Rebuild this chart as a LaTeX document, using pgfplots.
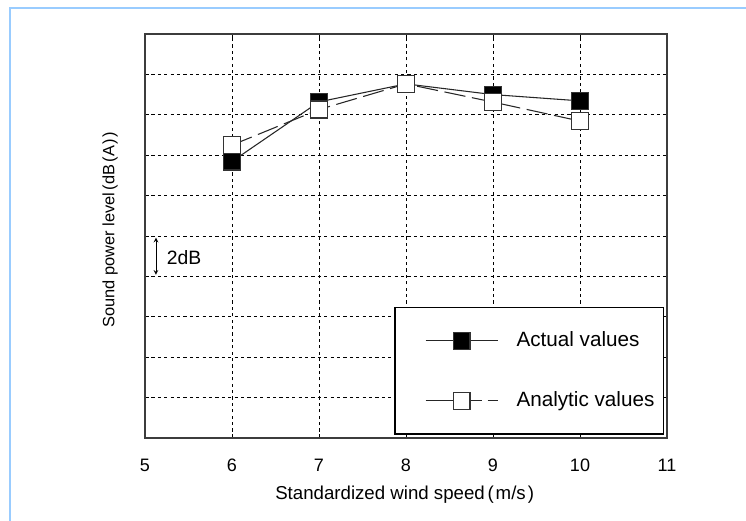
\documentclass[border=0pt]{standalone}
\usepackage{fontspec}
\setmainfont{Liberation Sans}
\usepackage{pgfplots}
\pgfplotsset{compat=1.18}
\definecolor{framebl}{RGB}{153,204,255}
\definecolor{axgray}{RGB}{60,60,60}
\begin{document}
\begin{tikzpicture}
\path[use as bounding box] (0pt,0pt) rectangle (559.5pt,390.75pt);
\draw[framebl, line width=1.5pt] (7.5pt,0pt) -- (7.5pt,384.75pt) -- (559.5pt,384.75pt);
\begin{axis}[
  at={(108.75pt,62.25pt)}, anchor=south west,
  scale only axis, width=391.5pt, height=303pt,
  xmin=5, xmax=11, ymin=0, ymax=20,
  xtick={5,...,11}, ytick={0,2,...,20}, yticklabels={},
  grid=major,
  major grid style={black, line width=0.65pt, dash pattern=on 2.4pt off 2.4pt},
  tick align=inside, major tick length=3pt, tick style={black, line width=0.7pt},
  axis line style={axgray, line width=1.1pt},
  /pgf/number format/assume math mode=true,
  xticklabel style={font=\fontsize{13.5}{16}\selectfont, anchor=base, yshift=-24.8pt},
  xlabel={Standardized wind speed\kern2pt(\kern1.5pt m/s\kern1.5pt)\kern2pt},
  xlabel style={font=\fontsize{14}{17}\selectfont, at={(axis description cs:0.5,-0.141)}, anchor=center},
  ylabel={Sound power level\kern1.2pt(\kern0.8pt dB\kern1.2pt(\kern0.8pt A\kern0.8pt)\kern1.2pt)},
  ylabel style={font=\fontsize{12.3}{14}\selectfont, at={(axis description cs:-0.067,0.516)}, anchor=center},
  legend style={at={(rel axis cs:0.995,0.008)}, anchor=south east, draw=black, line width=1pt, fill=white,
    inner xsep=7pt, inner ysep=18pt, row sep=31pt, column sep=13.75pt,
    font=\fontsize{15.5}{18}\selectfont,
    nodes={inner sep=0pt, text height=11pt, text depth=3pt}},
  legend cell align=left,
  legend image code/.code={\path[draw=none, fill=none] (0pt,-6pt) rectangle (70pt,6pt);
    \draw[mark repeat=2, mark phase=2, #1] plot coordinates {(16pt,0pt) (43pt,0pt) (70pt,0pt)};},
]
\addplot[black!85, line width=0.8pt, mark=square*, mark size=6.3pt,
  mark options={solid, fill=black, draw=black!80, line width=1pt}]
  coordinates {(6,13.69) (7,16.64) (8,17.53) (9,17.0) (10,16.69)};
\addlegendentry{Actual values}
\addplot[black!85, line width=0.8pt, dash pattern=on 16pt off 5pt, mark=square*, mark size=6.3pt,
  mark options={solid, fill=white, draw=black!80, line width=1pt},
  legend image post style={dash pattern=on 42pt off 4.5pt on 8pt off 10pt}]
  coordinates {(6,14.5) (7,16.26) (8,17.53) (9,16.63) (10,15.69)};
\addlegendentry{Analytic values}
\draw[<->, >=stealth, line width=0.6pt] (axis cs:5.126,8.08) -- (axis cs:5.126,9.92);
\node[anchor=west, inner sep=0pt, font=\fontsize{14.5}{17}\selectfont] at (axis cs:5.249,8.95) {2dB};
\end{axis}
\end{tikzpicture}
\end{document}
